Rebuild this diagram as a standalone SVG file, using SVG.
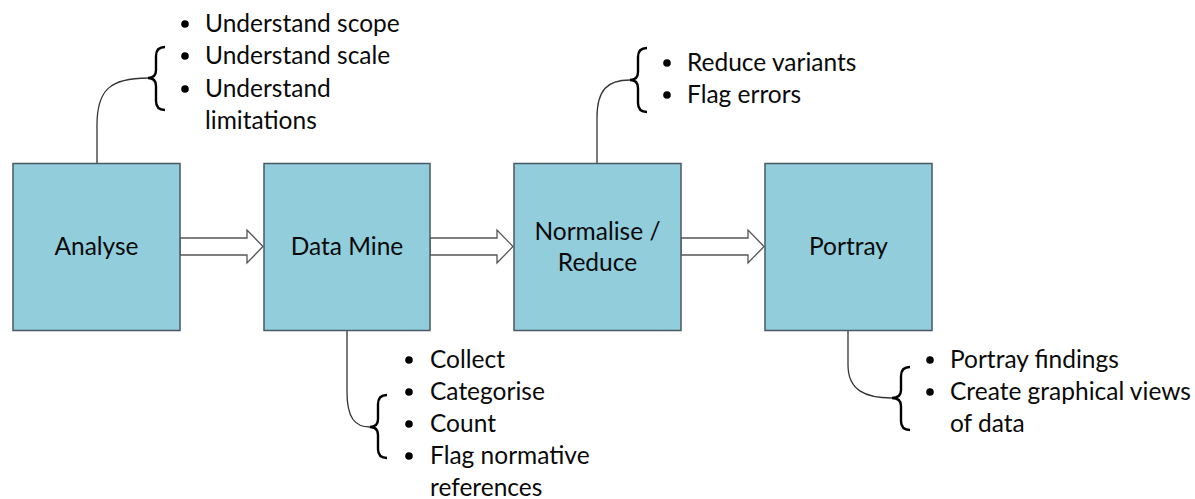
<svg xmlns="http://www.w3.org/2000/svg" width="1195" height="499" viewBox="0 0 1195 499">
<style>
.box{fill:#92CDDC;stroke:#4a5a64;stroke-width:1.5}
.lbl{font-family:Lato,"Liberation Sans",sans-serif;font-size:24.5px;fill:#0a0a0a;text-anchor:middle}
.txt{font-family:Lato,"Liberation Sans",sans-serif;font-size:24.5px;fill:#0a0a0a}
.arr{fill:#fff;stroke:#555;stroke-width:1.3}
.con{fill:none;stroke:#333;stroke-width:1.3}
.brace{fill:none;stroke:#000;stroke-width:2.4}
.dot{fill:#000}
</style>
<rect width="1195" height="499" fill="#fff"/>
<g id="connectors">
<path class="arr" d="M180,238 H247 V230 L263,246.5 L247,263 V255 H180 Z"/>
<path class="arr" d="M430,238 H497 V230 L513,246.5 L497,263 V255 H430 Z"/>
<path class="arr" d="M681,238 H748 V230 L764,246.5 L748,263 V255 H681 Z"/>
<path class="con" d="M97,163 L97,125 C97,90 110,78 148,78"/>
<path class="con" d="M597,163 L597,118 C597,90 607,80 630,80"/>
<path class="con" d="M347,330 L347,392 C347,418 355,427 370,427"/>
<path class="con" d="M848,330 L848,365 C848,390 865,398 892,398"/>
</g>
<g id="analyse">
<rect class="box" x="13" y="163.5" width="167" height="167"/>
<text class="lbl" x="96.5" y="255">Analyse</text>
</g>
<g id="datamine">
<rect class="box" x="264" y="163.5" width="166" height="167"/>
<text class="lbl" x="347" y="255">Data Mine</text>
</g>
<g id="normalise">
<rect class="box" x="514" y="163.5" width="167" height="167"/>
<text class="lbl" x="597.5" y="240">Normalise /</text>
<text class="lbl" x="597.5" y="271">Reduce</text>
</g>
<g id="portray">
<rect class="box" x="765" y="163.5" width="167" height="167"/>
<text class="lbl" x="848.5" y="255">Portray</text>
</g>
<g id="notes-analyse">
<path class="brace" d="M165,47 Q156,47 156,56 L156,70 Q156,78 148,78 Q156,78 156,86 L156,101 Q156,110 165,110"/>
<circle class="dot" cx="185" cy="24" r="3.8"/>
<circle class="dot" cx="185" cy="56" r="3.8"/>
<circle class="dot" cx="185" cy="89" r="3.8"/>
<text class="txt" x="205" y="32">Understand scope</text>
<text class="txt" x="205" y="64">Understand scale</text>
<text class="txt" x="205" y="97">Understand</text>
<text class="txt" x="205" y="129">limitations</text>
</g>
<g id="notes-normalise">
<path class="brace" d="M647,48 Q638,48 638,57 L638,72 Q638,80 630,80 Q638,80 638,88 L638,103 Q638,112 647,112"/>
<circle class="dot" cx="667" cy="63" r="3.8"/>
<circle class="dot" cx="667" cy="95" r="3.8"/>
<text class="txt" x="687" y="71">Reduce variants</text>
<text class="txt" x="687" y="103">Flag errors</text>
</g>
<g id="notes-datamine">
<path class="brace" d="M387,395 Q378,395 378,404 L378,419 Q378,427 370,427 Q378,427 378,435 L378,449 Q378,458 387,458"/>
<circle class="dot" cx="409" cy="360" r="3.8"/>
<circle class="dot" cx="409" cy="392" r="3.8"/>
<circle class="dot" cx="409" cy="424" r="3.8"/>
<circle class="dot" cx="409" cy="456" r="3.8"/>
<text class="txt" x="430" y="368">Collect</text>
<text class="txt" x="430" y="400">Categorise</text>
<text class="txt" x="430" y="432">Count</text>
<text class="txt" x="430" y="464">Flag normative</text>
<text class="txt" x="430" y="496">references</text>
</g>
<g id="notes-portray">
<path class="brace" d="M910,367 Q901,367 901,376 L901,390 Q901,398 892,398 Q901,398 901,406 L901,421 Q901,430 910,430"/>
<circle class="dot" cx="930" cy="360" r="3.8"/>
<circle class="dot" cx="930" cy="392" r="3.8"/>
<text class="txt" x="950" y="368">Portray findings</text>
<text class="txt" x="950" y="400">Create graphical views</text>
<text class="txt" x="950" y="432">of data</text>
</g>
</svg>
